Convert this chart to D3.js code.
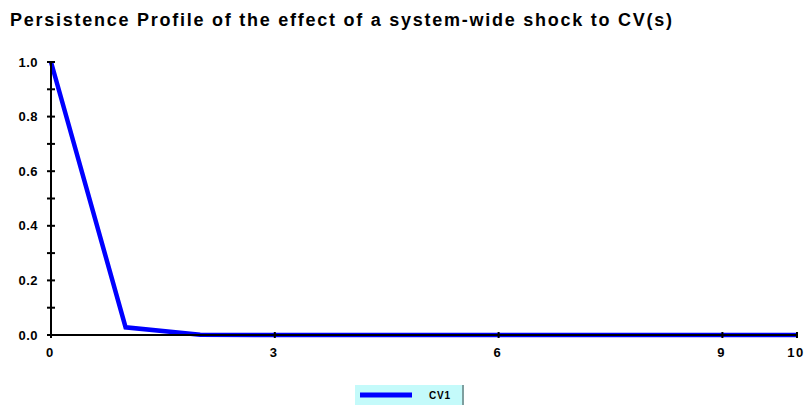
<!DOCTYPE html>
<html>
<head>
<meta charset="utf-8">
<script src="https://cdn.jsdelivr.net/npm/d3@7"></script>
<style>
  html, body { margin: 0; padding: 0; background: #fff; }
  svg { display: block; font-family: "Liberation Sans", Arial, sans-serif; }
</style>
</head>
<body>
<svg id="chart" width="804" height="405"></svg>
<script>
// Persistence profile horizons and response values
const horizons = [0, 1, 2, 3, 4, 5, 6, 7, 8, 9, 10];
const cv1 = [1.0, 0.028, 0.001, 0.0, 0.0, 0.0, 0.0, 0.0, 0.0, 0.0, 0.0];
const xTickValues = [0, 3, 6, 9, 10];
const yTickValues = [0.0, 0.2, 0.4, 0.6, 0.8, 1.0];
const yMinorValues = [0.1, 0.3, 0.5, 0.7, 0.9];
const seriesName = "CV1";
const titleText = "Persistence Profile of the effect of a system-wide shock to CV(s)";

const svg = d3.select("#chart");

const x = d3.scaleLinear().domain([0, 10]).range([51, 797]);
const y = d3.scaleLinear().domain([0, 1]).range([335, 62]);

// Title
svg.append("text")
  .attr("x", 10).attr("y", 26)
  .attr("font-size", 18).attr("font-weight", "bold")
  .attr("textLength", 662).attr("lengthAdjust", "spacing")
  .attr("fill", "#000")
  .text(titleText);

// Series line
const line = d3.line().x((d, i) => x(horizons[i])).y(d => y(d));
svg.append("path")
  .datum(cv1)
  .attr("d", line)
  .attr("fill", "none")
  .attr("stroke", "#0000ff")
  .attr("stroke-width", 4.5)
  .attr("stroke-linejoin", "miter");

// Y axis
const yAxisG = svg.append("g").attr("transform", `translate(${x(0)},0)`);
yAxisG.append("line")
  .attr("x1", 0).attr("x2", 0)
  .attr("y1", y(1)).attr("y2", y(0))
  .attr("stroke", "#000").attr("stroke-width", 2);
yAxisG.selectAll("line.tick")
  .data(yTickValues.concat(yMinorValues))
  .join("line")
  .attr("class", "tick")
  .attr("x1", -4).attr("x2", 4)
  .attr("y1", d => y(d)).attr("y2", d => y(d))
  .attr("stroke", "#000").attr("stroke-width", 2);
yAxisG.selectAll("text")
  .data(yTickValues)
  .join("text")
  .attr("x", -13).attr("y", d => y(d))
  .attr("dy", "0.35em")
  .attr("text-anchor", "end")
  .attr("font-size", 13).attr("font-weight", "bold")
  .attr("letter-spacing", 0.5)
  .text(d => d3.format(".1f")(d));

// X axis (drawn over the series)
const xAxisG = svg.append("g").attr("transform", `translate(0,${y(0)})`);
xAxisG.append("line")
  .attr("x1", x(0)).attr("x2", x(10))
  .attr("y1", 0).attr("y2", 0)
  .attr("stroke", "#000").attr("stroke-width", 2);
xAxisG.selectAll("line.tick")
  .data(xTickValues)
  .join("line")
  .attr("class", "tick")
  .attr("x1", d => x(d)).attr("x2", d => x(d))
  .attr("y1", -3).attr("y2", 3)
  .attr("stroke", "#000").attr("stroke-width", 2);
xAxisG.selectAll("text")
  .data(xTickValues)
  .join("text")
  .attr("x", d => x(d)).attr("y", 22)
  .attr("text-anchor", "middle")
  .attr("dx", d => d === 10 ? -1 : -1.5)
  .attr("font-size", 13).attr("font-weight", "bold")
  .attr("letter-spacing", d => d === 10 ? 1.5 : 0)
  .text(d => d);

// Legend
const legend = svg.append("g").attr("transform", "translate(355,385)");
legend.append("rect")
  .attr("x", 0).attr("y", 0).attr("width", 109).attr("height", 20)
  .attr("fill", "#c4fafa");
legend.append("line")
  .attr("x1", 108).attr("x2", 108).attr("y1", 0).attr("y2", 20)
  .attr("stroke", "#7f9f9f").attr("stroke-width", 2);
legend.append("line")
  .attr("x1", 5).attr("x2", 57).attr("y1", 10).attr("y2", 10)
  .attr("stroke", "#0000ff").attr("stroke-width", 5);
legend.append("text")
  .attr("x", 74).attr("y", 14)
  .attr("font-size", 10).attr("font-weight", "bold")
  .attr("letter-spacing", 0.8)
  .text(seriesName);
</script>
</body>
</html>
